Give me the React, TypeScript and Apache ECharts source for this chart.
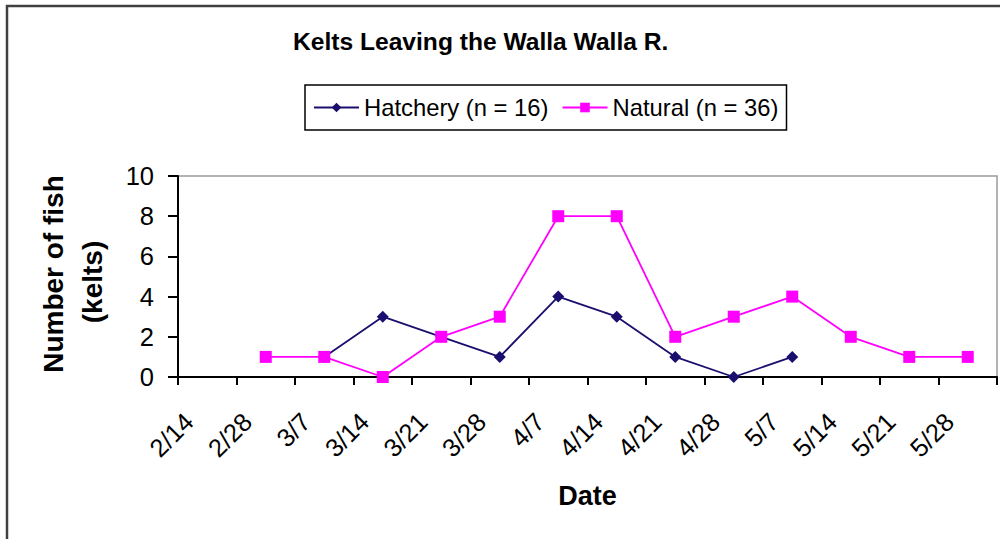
import React, { useEffect, useRef } from "react";
import * as echarts from "echarts";

const dates = ["2/14", "2/28", "3/7", "3/14", "3/21", "3/28", "4/7", "4/14", "4/21", "4/28", "5/7", "5/14", "5/21", "5/28"];
const hatchery = [null, null, 1, 3, 2, 1, 4, 3, 1, 0, 1, null, null, null];
const natural = [null, 1, 1, 0, 2, 3, 8, 8, 2, 3, 4, 2, 1, 1];
const yTicks = { min: 0, max: 10, interval: 2 };

const FONT = "'Liberation Sans', Arial, sans-serif";

export default function App() {
  const ref = useRef<HTMLDivElement>(null);
  useEffect(() => {
    if (!ref.current) return;
    const chart = echarts.init(ref.current, undefined, { renderer: "svg" });
    chart.setOption({
      animation: false,
      backgroundColor: "#ffffff",
      textStyle: { fontFamily: FONT },
      title: {
        text: "Kelts Leaving the Walla Walla R.",
        left: 293,
        top: 29,
        padding: 0,
        textStyle: { fontFamily: FONT, fontSize: 24.6, fontWeight: "bold", color: "#000" },
      },
      legend: {
        left: 305,
        top: 85,
        orient: "horizontal",
        padding: [10, 8, 10, 8],
        itemGap: 13,
        itemWidth: 45,
        itemHeight: 12,
        borderColor: "#000",
        borderWidth: 1.5,
        textStyle: { fontFamily: FONT, fontSize: 23.8, color: "#000", lineHeight: 25 },
        data: ["Hatchery (n = 16)", "Natural (n = 36)"],
      },
      grid: {
        left: 178,
        right: 3,
        top: 176,
        bottom: 162,
        show: true,
        borderColor: "#9a9a9a",
        borderWidth: 1.5,
        backgroundColor: "transparent",
      },
      xAxis: {
        type: "category",
        data: dates,
        boundaryGap: true,
        name: "Date",
        nameLocation: "middle",
        nameGap: 105,
        nameTextStyle: { fontFamily: FONT, fontSize: 27, fontWeight: "bold", color: "#000" },
        axisLine: { lineStyle: { color: "#000", width: 2 } },
        axisTick: { show: true, length: 8, lineStyle: { color: "#000", width: 2 } },
        axisLabel: {
          interval: 0,
          rotate: 45,
          margin: 22,
          padding: [0, 26, 0, 0],
          fontFamily: FONT,
          fontSize: 25.5,
          color: "#000",
        },
        splitLine: { show: false },
      },
      yAxis: {
        type: "value",
        min: yTicks.min,
        max: yTicks.max,
        interval: yTicks.interval,
        axisLine: { show: true, lineStyle: { color: "#000", width: 2 } },
        axisTick: { show: true, length: 10, lineStyle: { color: "#000", width: 2 } },
        axisLabel: { margin: 24, fontFamily: FONT, fontSize: 25.5, color: "#000" },
        splitLine: { show: false },
      },
      graphic: [
        {
          type: "rect",
          shape: { x: 7, y: 6, width: 1100, height: 700 },
          style: { fill: "none", stroke: "#404040", lineWidth: 2.5 },
          silent: true,
        },
        {
          type: "text",
          x: 53,
          y: 274,
          rotation: Math.PI / 2,
          style: {
            text: "Number of fish",
            fontFamily: FONT,
            fontSize: 28,
            fontWeight: "bold",
            fill: "#000",
            align: "center",
            verticalAlign: "middle",
          },
        },
        {
          type: "text",
          x: 92,
          y: 282,
          rotation: Math.PI / 2,
          style: {
            text: "(kelts)",
            fontFamily: FONT,
            fontSize: 28,
            fontWeight: "bold",
            fill: "#000",
            align: "center",
            verticalAlign: "middle",
          },
        },
      ],
      series: [
        {
          name: "Hatchery (n = 16)",
          type: "line",
          data: hatchery,
          symbol: "diamond",
          symbolSize: 12,
          connectNulls: false,
          itemStyle: { color: "#1a0f6e" },
          lineStyle: { color: "#1a0f6e", width: 1.8 },
        },
        {
          name: "Natural (n = 36)",
          type: "line",
          data: natural,
          symbol: "rect",
          symbolSize: 12,
          connectNulls: false,
          itemStyle: { color: "#ff00ff" },
          lineStyle: { color: "#ff00ff", width: 1.8 },
        },
      ],
    });
    return () => chart.dispose();
  }, []);
  return (
    <div
      ref={ref}
      style={{ position: "absolute", left: 0, top: 0, width: 1000, height: 539 }}
    />
  );
}
